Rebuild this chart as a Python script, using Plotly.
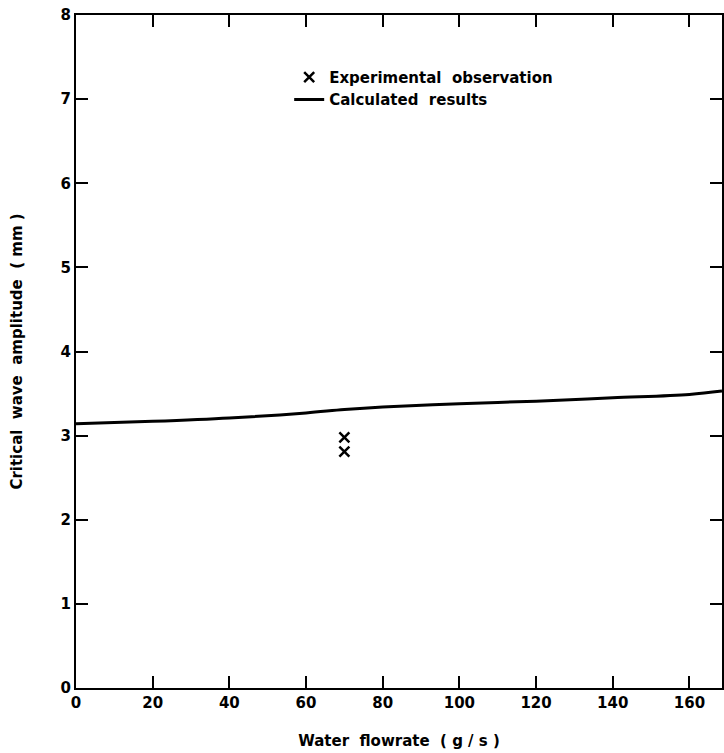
import plotly.graph_objects as go

calc_x = [0, 20, 40, 60, 70, 80, 100, 120, 140, 160, 168.5]
calc_y = [3.14, 3.17, 3.21, 3.27, 3.31, 3.34, 3.38, 3.41, 3.45, 3.49, 3.53]
exp_x = [70, 70]
exp_y = [2.98, 2.81]
x_ticks = [0, 20, 40, 60, 80, 100, 120, 140, 160]
y_ticks = [0, 1, 2, 3, 4, 5, 6, 7, 8]

FONT = "DejaVu Sans"

fig = go.Figure()
fig.add_trace(go.Scatter(
    x=exp_x, y=exp_y, mode="markers", name="Experimental  observation",
    marker=dict(symbol="x-thin", size=10, color="black",
                line=dict(width=2.5, color="black")),
))
fig.add_trace(go.Scatter(
    x=calc_x, y=calc_y, mode="lines", name="Calculated  results",
    line=dict(color="black", width=3, shape="spline"),
))

axis_common = dict(
    showgrid=False, zeroline=False, showline=True, linecolor="black",
    linewidth=2, ticks="inside", ticklen=12, tickwidth=2, tickcolor="black",
    mirror="ticks",
    tickfont=dict(family=FONT, size=15, color="black", weight="bold"),
)

fig.update_layout(
    width=724, height=753,
    margin=dict(l=76, r=0, t=15, b=65),
    paper_bgcolor="white", plot_bgcolor="white",
    showlegend=True,
    legend=dict(x=0.33, y=0.932, xanchor="left", yanchor="top",
                bgcolor="rgba(0,0,0,0)", borderwidth=0,
                font=dict(family=FONT, size=15, color="black", weight="bold"),
                itemwidth=30, tracegroupgap=0),
    xaxis=dict(range=[0, 168.5], tickvals=x_ticks, **axis_common,
               title=dict(text="Water  flowrate  ( g / s )",
                          font=dict(family=FONT, size=15, color="black", weight="bold"),
                          standoff=24)),
    yaxis=dict(range=[0, 8], tickvals=y_ticks, **axis_common,
               title=dict(text="Critical  wave  amplitude  ( mm )",
                          font=dict(family=FONT, size=15, color="black", weight="bold"),
                          standoff=34)),
)

fig.write_html("out.html")
